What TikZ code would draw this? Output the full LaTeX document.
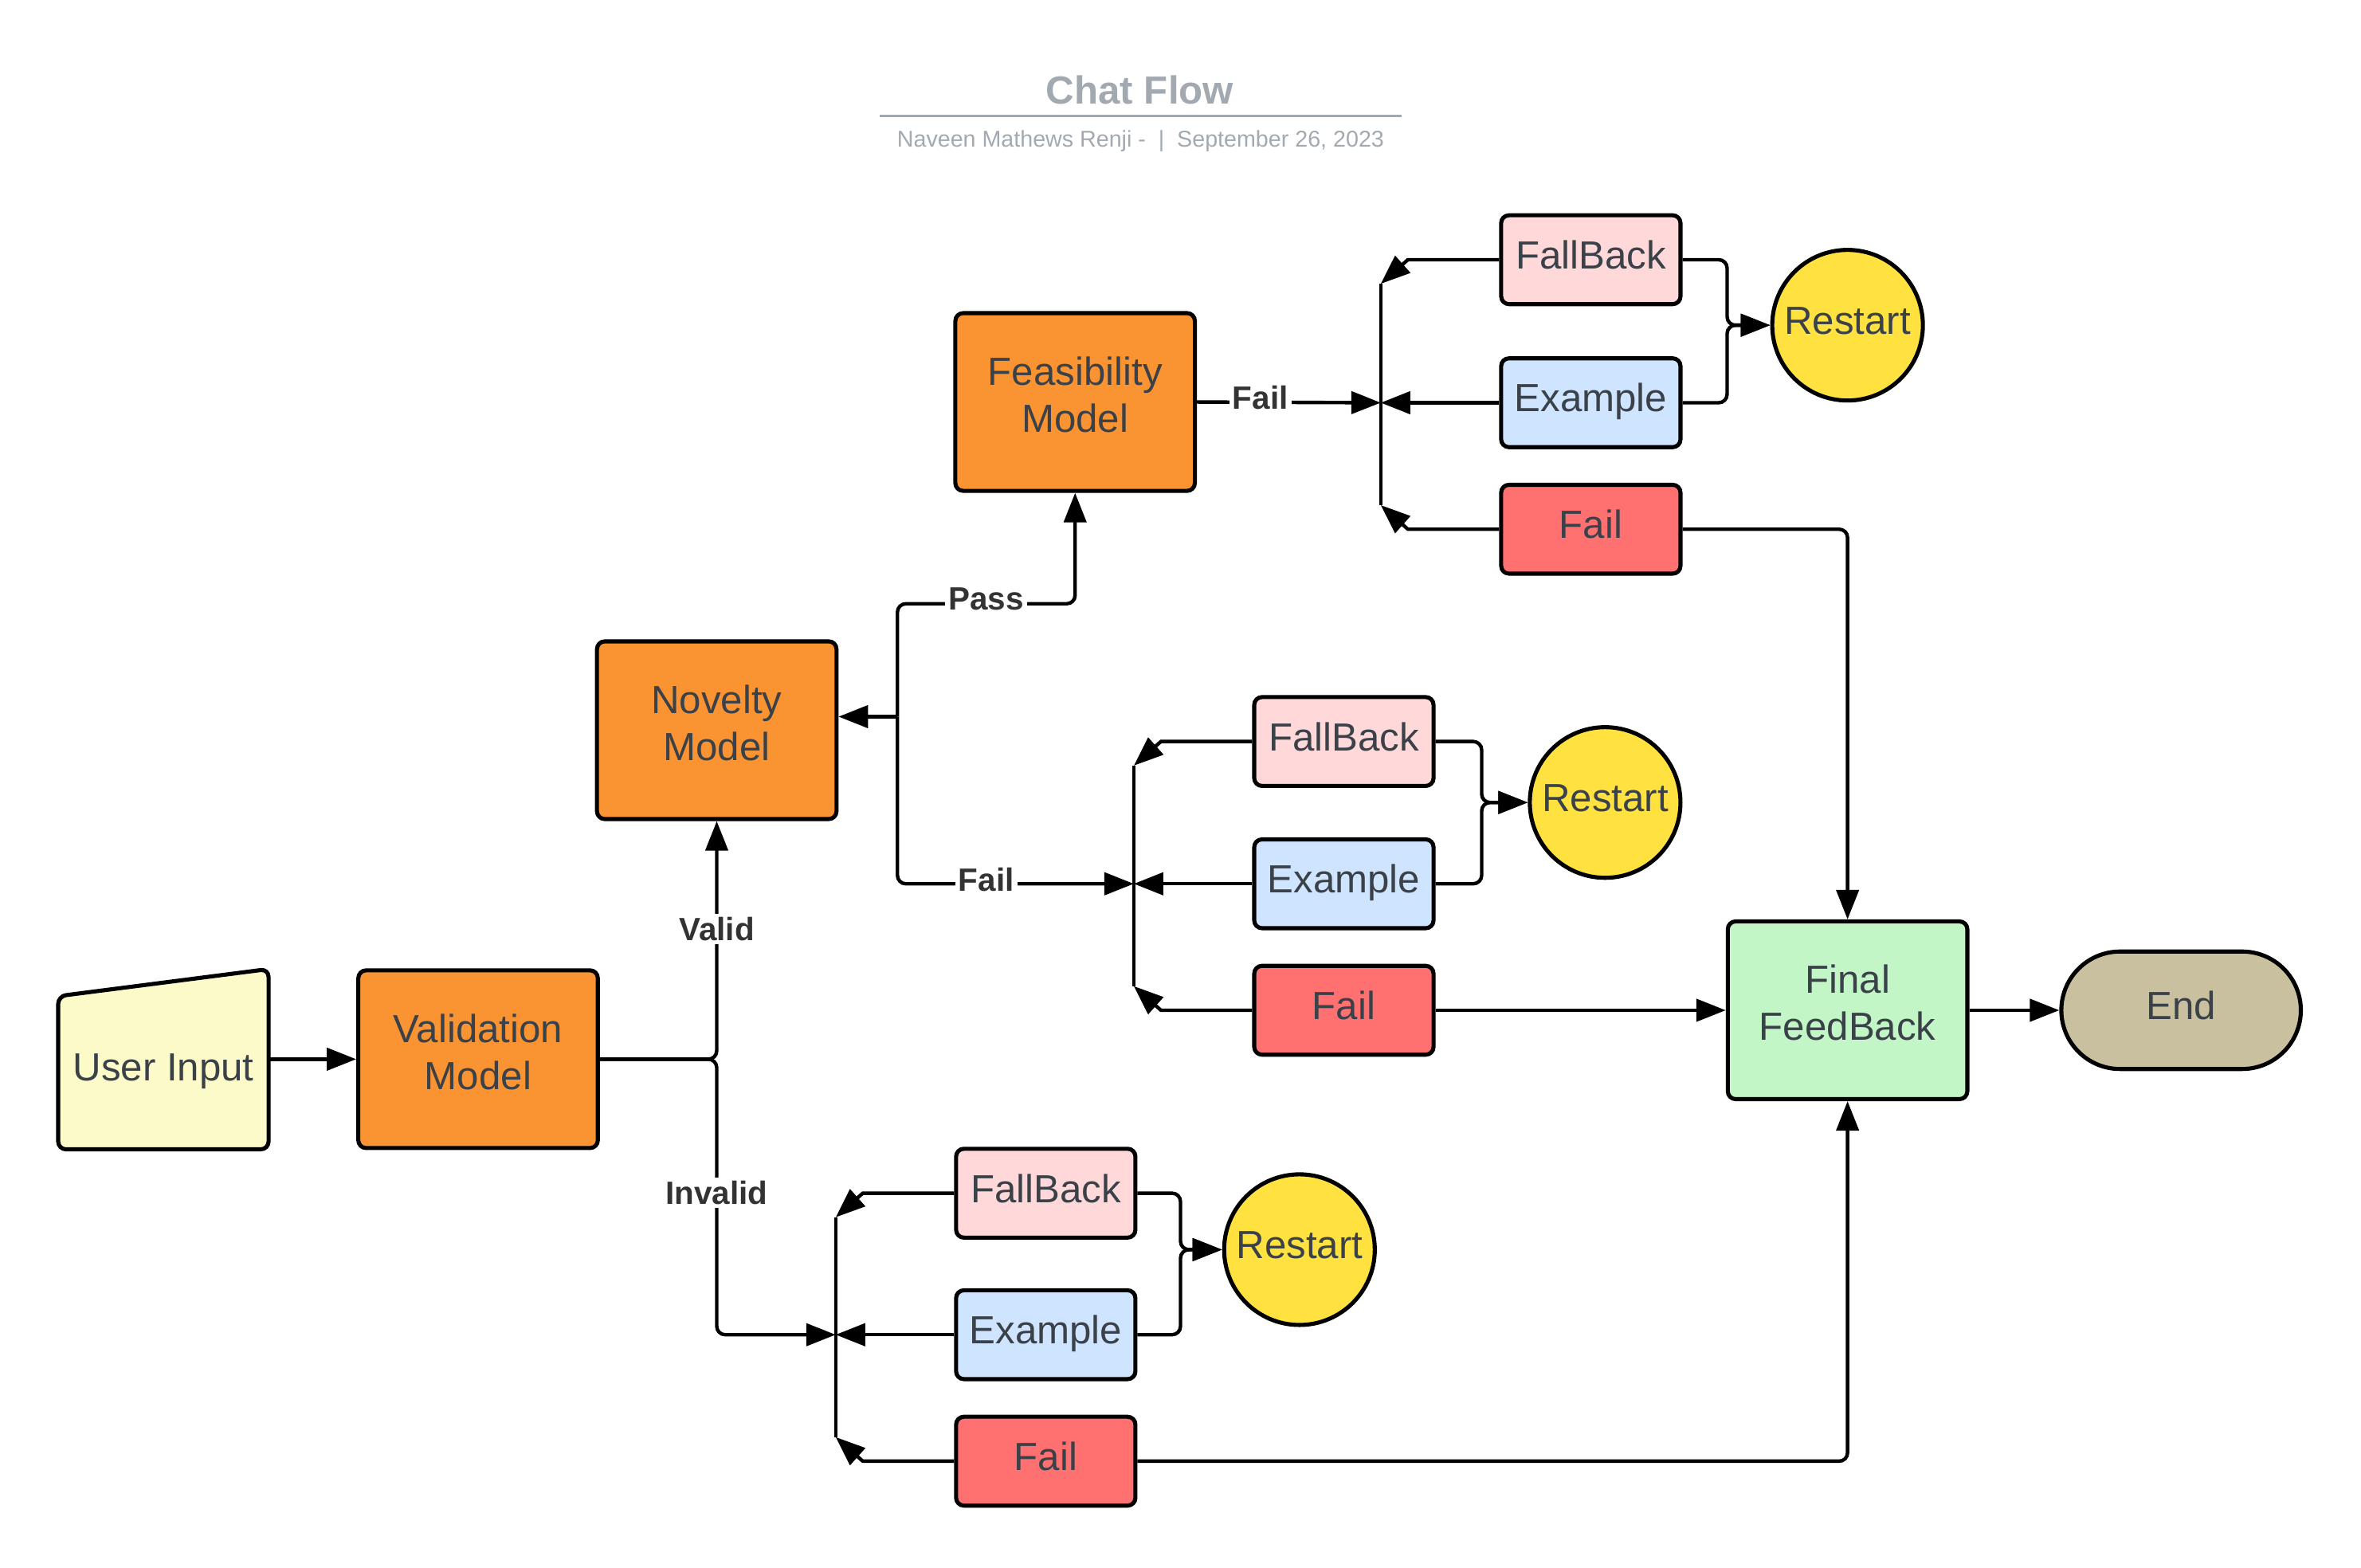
\documentclass[tikz,border=0pt]{standalone}
\usepackage{fontspec}
\setmainfont{Liberation Sans}
\usetikzlibrary{arrows.meta,calc,shapes.misc}

\definecolor{txtgray}{HTML}{3A4149}
\definecolor{lblgray}{HTML}{333333}
\definecolor{titlegray}{HTML}{A3A9B1}
\definecolor{inputfill}{HTML}{FDFACA}
\definecolor{modelfill}{HTML}{FA9433}
\definecolor{fallbackfill}{HTML}{FFD9D9}
\definecolor{examplefill}{HTML}{CFE4FF}
\definecolor{failfill}{HTML}{FF7070}
\definecolor{restartfill}{HTML}{FFE13F}
\definecolor{finalfill}{HTML}{C3F6C6}
\definecolor{endfill}{HTML}{C9C09F}

\begin{document}
\begin{tikzpicture}[x=0.018897cm, y=-0.018897cm,
  shapeline/.style={draw=black, line width=1.45pt},
  boxtext/.style={text=txtgray, font=\fontsize{14}{16.8}\selectfont, align=center},
  oneline/.style={text height=10.2pt, text depth=3.7pt},
  model/.style={rectangle, shapeline, rounded corners=2.8pt, boxtext, fill=modelfill,
    minimum width=3.005cm, minimum height=2.23cm, inner sep=0pt, text depth=5.4pt},
  optbox/.style={rectangle, shapeline, rounded corners=2.8pt, boxtext, oneline,
    minimum width=2.25cm, minimum height=1.115cm, inner sep=0pt},
  restartcircle/.style={circle, shapeline, boxtext, oneline, fill=restartfill,
    minimum size=1.89cm, inner sep=0pt},
  conn/.style={line width=1.25pt, rounded corners=3pt},
  plain/.style={line width=1.25pt},
  arr/.style={-{Triangle[length=0.37cm,width=0.28cm]}},
  flowlabel/.style={fill=white, text=lblgray, font=\bfseries\fontsize{11.5}{13}\selectfont, inner sep=1.2pt},
]
\useasboundingbox (0,0) rectangle (1568,1041);

% heading
\node[font=\bfseries\fontsize{14}{16}\selectfont, text=titlegray] (title) at (757,60) {Chat Flow};
\draw[titlegray, line width=0.8pt] (584,77) -- (931,77);
\node[font=\fontsize{8.15}{10}\selectfont, text=titlegray] (subtitle) at (757.5,94)
  {Naveen Mathews Renji -\ \ |\ \ September 26, 2023};

% input (manual input shape)
\node[minimum width=139*0.018897cm, minimum height=119*0.018897cm, inner sep=0pt] (ui) at (108.5,703.5) {};
\draw[shapeline, fill=inputfill, rounded corners=2.8pt]
  (ui.south west) -- ($(ui.north west)+(0,18)$) -- (ui.north east) -- (ui.south east) -- cycle;
\node[boxtext, oneline] (uitext) at (108.5,712) {User Input};

% models
\node[model] (val)  at (317.5,703.5) {Validation\\Model};
\node[model] (nov)  at (476,485)     {Novelty\\Model};
\node[model] (feas) at (714,267)     {Feasibility\\Model};
\node[model, fill=finalfill] (ff) at (1227,671) {Final\\FeedBack};
\node[rounded rectangle, shapeline, boxtext, oneline, fill=endfill, minimum width=3.005cm,
  minimum height=1.474cm, inner sep=0pt] (end) at (1448.5,671) {End};

% three outcome groups
\node[optbox, fill=fallbackfill] (fb1) at (1056.5,172.5) {FallBack};
\node[optbox, fill=examplefill]  (ex1) at (1056.5,267.5) {Example};
\node[optbox, fill=failfill]     (fl1) at (1056.5,351.5) {Fail};
\node[restartcircle] (rs1) at (1227,216) {Restart};
\coordinate (jc1) at (917,267.5);
\coordinate (m1) at (1147,216);

\node[optbox, fill=fallbackfill] (fb2) at (892.5,492.5) {FallBack};
\node[optbox, fill=examplefill]  (ex2) at (892.5,587) {Example};
\node[optbox, fill=failfill]     (fl2) at (892.5,671) {Fail};
\node[restartcircle] (rs2) at (1066,533) {Restart};
\coordinate (jc2) at (753,587);
\coordinate (m2) at (984,533);

\node[optbox, fill=fallbackfill] (fb3) at (694.5,792.5) {FallBack};
\node[optbox, fill=examplefill]  (ex3) at (694.5,886.5) {Example};
\node[optbox, fill=failfill]     (fl3) at (694.5,970.5) {Fail};
\node[restartcircle] (rs3) at (863,830) {Restart};
\coordinate (jc3) at (555,886.5);
\coordinate (m3) at (784,830);

% branch junctions and restart merges
\foreach \g in {1,2,3}{
  \draw[plain, arr] (ex\g.west) -- (jc\g);
  \draw[plain, arr] (fb\g.west) -- ($(jc\g |- fb\g.west)+(18,0)$) -- ($(jc\g |- fb\g.west)+(0,16)$);
  \draw[plain] ($(jc\g |- fb\g.west)+(0,16)$) -- ($(jc\g |- fl\g.west)+(0,-16)$);
  \draw[plain, arr] (fl\g.west) -- ($(jc\g |- fl\g.west)+(18,0)$) -- ($(jc\g |- fl\g.west)+(0,-16)$);
  \draw[conn, arr] (fb\g.east) -| (m\g) -- (rs\g.west);
  \draw[conn, arr] (ex\g.east) -| (m\g) -- (rs\g.west);
}

% main flow
\draw[plain, arr] (val.west -| ui.east) -- (val.west);
\draw[conn, arr] (val.east) -| (nov.south);
\draw[conn, arr] (val.east) -| (nov.south |- jc3) -- (jc3);
\node[flowlabel] (lvalid) at (476,617) {Valid};
\node[flowlabel] (linvalid) at (476,792) {Invalid};

\coordinate (nj) at (596,476);
\draw[plain, arr] (nj) -- (nj -| nov.east);
\draw[conn, arr] (nj) -- (596,401) -| (feas.south);
\draw[conn, arr] (nj) -- (nj |- jc2) -- (jc2);
\node[flowlabel] (lpass) at (655,398) {Pass};
\node[flowlabel] (lfail2) at (655,584) {Fail};

\draw[plain, arr] (feas.east) -- (jc1);
\node[flowlabel] (lfail1) at (837,264) {Fail};

% to final feedback
\draw[conn, arr] (fl1.east) -| (ff.north);
\draw[plain, arr] (fl2.east) -- (ff.west);
\draw[conn, arr] (fl3.east) -| (ff.south);
\draw[plain, arr] (ff.east) -- (end.west);
\end{tikzpicture}
\end{document}
